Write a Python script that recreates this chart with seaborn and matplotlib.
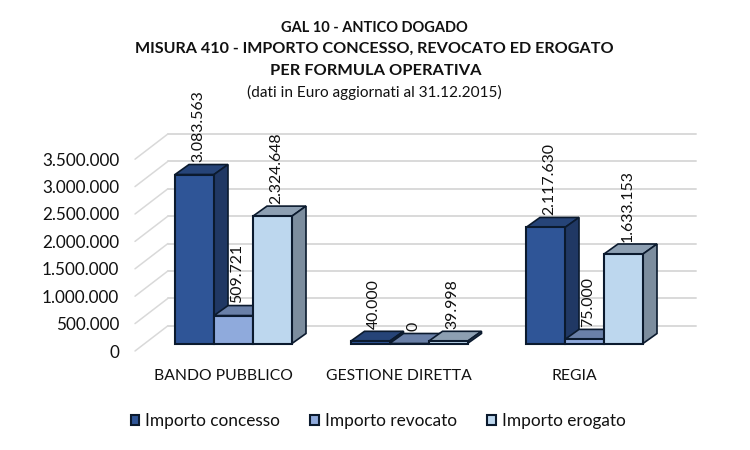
import pandas as pd
import numpy as np
import matplotlib
matplotlib.use("Agg")
import matplotlib.pyplot as plt
import matplotlib.transforms as mtransforms
from matplotlib.patches import Polygon
import seaborn as sns

formule = ["BANDO PUBBLICO", "GESTIONE DIRETTA", "REGIA"]
concesso = [3083563, 40000, 2117630]
revocato = [509721, 0, 75000]
erogato = [2324648, 39998, 1633153]
serie = ["Importo concesso", "Importo revocato", "Importo erogato"]
y_ticks = [0, 500000, 1000000, 1500000, 2000000, 2500000, 3000000, 3500000]

front_colors = ["#2F5597", "#8FAADC", "#BDD7EE"]
top_colors = ["#264478", "#6A80A8", "#8D9FB2"]
side_colors = ["#203864", "#5F73A0", "#7C8D9E"]
edge = "#0B1A2E"

sns.set_theme(style="white")
plt.rcParams['font.family'] = ['Lato', 'DejaVu Sans']

df = pd.DataFrame({
    'formula': formule * 3,
    'serie': np.repeat(serie, 3),
    'valore': concesso + revocato + erogato,
})

fig = plt.figure(figsize=(7.5, 4.5), dpi=100)
# axes sit on the plane of the bars' front faces
ax = fig.add_axes([145.75 / 750, (450 - 343.5) / 450, 526.5 / 750, 191.8 / 450])
sns.barplot(data=df, x='formula', y='valore', hue='serie', order=formule, hue_order=serie,
            palette=front_colors, saturation=1, width=2 / 3, gap=0, ax=ax,
            edgecolor=edge, linewidth=1.5)
ax.set_xlim(-0.5, 2.5)
ax.set_ylim(0, 3500000)
ax.set_xlabel('')
ax.set_ylabel('')
sns.despine(ax=ax, left=True, bottom=True)

# pixels -> data units
px_x = 3 / 526.5
px_y = 3500000 / 191.8

# gridlines on the back wall + diagonals on the side wall
xl, xr = ax.get_xlim()
for v in y_ticks:
    yb = v + 17.8 * px_y
    ax.plot([xl + 22.25 * px_x, xr + 23.5 * px_x], [yb, yb], color='#D9D9D9', lw=1.4,
            clip_on=False, zorder=1)
    ax.plot([xl - 10.75 * px_x, xl + 22.25 * px_x], [v - 7.5 * px_y, yb], color='#D9D9D9', lw=1.1,
            clip_on=False, zorder=1)

# depth of the bars
dx = 14 * px_x
dy = 10 * px_y
for i, cont in enumerate(ax.containers):
    for p, val in zip(cont.patches, [concesso, revocato, erogato][i]):
        x0 = p.get_x()
        x1 = x0 + p.get_width()
        h = p.get_height()
        z = 3 + i
        p.set_zorder(z + 0.5)
        p.set_clip_on(False)
        ax.add_patch(Polygon([(x0, h), (x1, h), (x1 + dx, h + dy), (x0 + dx, h + dy)],
                             facecolor=top_colors[i], edgecolor=edge, lw=1.2, zorder=z,
                             clip_on=False))
        ax.add_patch(Polygon([(x1, 0), (x1 + dx, dy), (x1 + dx, h + dy), (x1, h)],
                             facecolor=side_colors[i], edgecolor=edge, lw=1.2, zorder=z,
                             clip_on=False))
        ax.text(x0 + p.get_width() / 2 + 4 * px_x, h + 12.5 * px_y, f"{val:,}".replace(",", "."),
                rotation=90, ha='center', va='bottom', fontsize=11.4, color='#111111',
                zorder=10, clip_on=False)

# ticks
ax.set_yticks(y_ticks)
ax.set_yticklabels([f"{v:,}".replace(",", ".") for v in y_ticks])
ax.tick_params(axis='y', length=0, pad=0, labelsize=12.3, labelcolor='#111111')
ax.tick_params(axis='x', length=0, pad=18, labelsize=11.35, labelcolor='#111111')
off_y = mtransforms.ScaledTranslation(-26.5 / 100, -7.5 / 100, fig.dpi_scale_trans)
for lab in ax.get_yticklabels():
    lab.set_transform(lab.get_transform() + off_y)
off_x = mtransforms.ScaledTranslation(-10 / 100, 0, fig.dpi_scale_trans)
for lab in ax.get_xticklabels():
    lab.set_transform(lab.get_transform() + off_x)

# legend
handles, labels = ax.get_legend_handles_labels()
ax.legend(handles, labels, ncol=3, frameon=False, loc='center', fontsize=12.4,
          bbox_to_anchor=(378 / 750, 1 - 421 / 450), bbox_transform=fig.transFigure,
          handlelength=0.5, handleheight=0.5, handletextpad=0.35, columnspacing=1.75,
          labelcolor='#111111')

# titles
fig.text(374 / 750, 1 - 28 / 450, "GAL 10 - ANTICO DOGADO", ha='center', va='center',
         fontsize=10.5, fontweight='bold', color='#111111')
fig.text(374 / 750, 1 - 49 / 450, "MISURA 410 - IMPORTO CONCESSO, REVOCATO ED EROGATO", ha='center', va='center',
         fontsize=11.65, fontweight='bold', color='#111111')
fig.text(376 / 750, 1 - 71 / 450, "PER FORMULA OPERATIVA", ha='center', va='center',
         fontsize=11.75, fontweight='bold', color='#111111')
fig.text(374.5 / 750, 1 - 92.5 / 450, "(dati in Euro aggiornati al 31.12.2015)", ha='center', va='center',
         fontsize=11.05, color='#111111')

fig.savefig('out.png', dpi=100)
